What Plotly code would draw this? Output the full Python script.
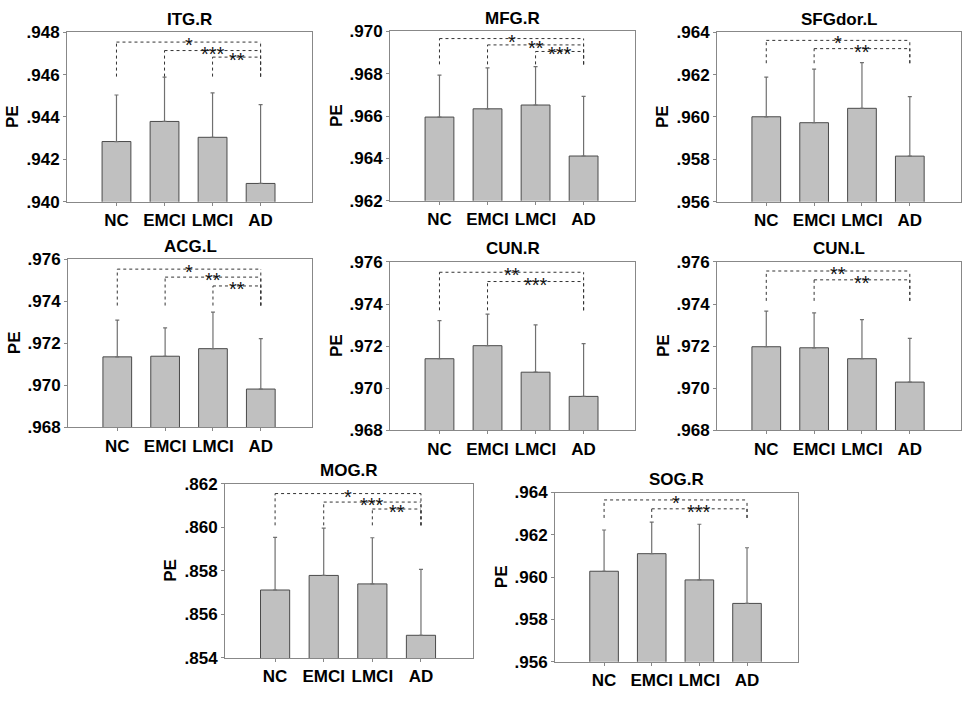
import plotly.graph_objects as go

groups = ["NC", "EMCI", "LMCI", "AD"]
regions = ["ITG.R", "MFG.R", "SFGdor.L", "ACG.L", "CUN.R", "CUN.L", "MOG.R", "SOG.R"]

# mean PE per group, one row per region
means = [
    [0.94284, 0.94379, 0.94304, 0.94086],
    [0.96595, 0.96634, 0.96652, 0.96411],
    [0.96001, 0.95973, 0.96041, 0.95815],
    [0.97135, 0.97138, 0.97174, 0.96982],
    [0.97140, 0.97202, 0.97076, 0.96961],
    [0.97197, 0.97192, 0.97140, 0.97029],
    [0.85712, 0.85779, 0.85740, 0.85504],
    [0.96028, 0.96111, 0.95987, 0.95876],
]
# standard deviation (upper error bar only)
sds = [
    [0.00220, 0.00209, 0.00210, 0.00372],
    [0.00198, 0.00194, 0.00181, 0.00282],
    [0.00187, 0.00253, 0.00216, 0.00281],
    [0.00175, 0.00135, 0.00174, 0.00240],
    [0.00181, 0.00150, 0.00225, 0.00251],
    [0.00169, 0.00166, 0.00186, 0.00208],
    [0.00242, 0.00217, 0.00212, 0.00303],
    [0.00195, 0.00149, 0.00263, 0.00263],
]
y_min = [0.940, 0.962, 0.956, 0.968, 0.968, 0.968, 0.854, 0.956]
y_step = 0.002
# significance brackets: (from group, to group, level, stars)
brackets = [
    [(0, 3, 0.94754, "*"), (1, 3, 0.94714, "***"), (2, 3, 0.94683, "**")],
    [(0, 3, 0.96966, "*"), (1, 3, 0.96936, "**"), (2, 3, 0.96905, "***")],
    [(0, 3, 0.96362, "*"), (1, 3, 0.96323, "**")],
    [(0, 3, 0.97552, "*"), (1, 3, 0.97514, "**"), (2, 3, 0.97472, "**")],
    [(0, 3, 0.97551, "**"), (1, 3, 0.97507, "***")],
    [(0, 3, 0.97557, "**"), (1, 3, 0.97515, "**")],
    [(0, 3, 0.86155, "*"), (1, 3, 0.86116, "***"), (2, 3, 0.86084, "**")],
    [(0, 3, 0.96365, "*"), (1, 3, 0.96323, "***")],
]
bracket_drop = [0.94591, 0.96844, 0.96254, 0.97379, 0.97370, 0.97415, 0.86009, 0.96280]

W, H = 964, 701
# plot area of each panel in pixels: left, right, top, bottom
boxes = [
    (67, 312, 24, 198), (390, 635, 23, 197), (717, 961, 24, 198),
    (68, 312, 257, 430), (390, 635, 260, 433), (717, 961, 260, 433),
    (225, 473, 488, 667), (555, 798, 497, 671),
]

FONT = "Liberation Sans, Arial, sans-serif"
fig = go.Figure()
layout = {}
annotations = []
shapes = []

for k, name in enumerate(regions):
    n = "" if k == 0 else str(k + 1)
    xa, ya = "x" + n, "y" + n
    l, r, t, b = boxes[k]
    fig.add_trace(go.Bar(
        x=list(range(4)), y=means[k], width=0.6,
        xaxis=xa, yaxis=ya, showlegend=False,
        marker=dict(color="#c0c0c0", line=dict(color="#4a4a4a", width=1)),
        error_y=dict(type="data", symmetric=False, array=sds[k],
                     arrayminus=[0] * 4, color="#707070", thickness=1.2, width=2),
    ))
    ticks = [round(y_min[k] + i * y_step, 3) for i in range(5)]
    layout["xaxis" + n] = dict(
        domain=[l / W, r / W], anchor=ya, range=[-1.03, 4.07],
        tickvals=list(range(4)), ticktext=groups,
        showline=True, mirror=True, linecolor="#888888", linewidth=1,
        ticks="outside", ticklen=3, tickcolor="#888888",
        tickfont=dict(family=FONT, size=17, color="black", weight="bold"),
        showgrid=False, zeroline=False, fixedrange=True,
    )
    layout["yaxis" + n] = dict(
        domain=[1 - b / H, 1 - t / H], anchor=xa,
        range=[y_min[k], y_min[k] + 4 * y_step],
        tickvals=ticks, ticktext=[("%.3f" % v)[1:] for v in ticks],
        showline=True, mirror=True, linecolor="#888888", linewidth=1,
        ticks="outside", ticklen=3, tickcolor="#888888",
        tickfont=dict(family=FONT, size=17, color="black", weight="bold"),
        showgrid=False, zeroline=False, fixedrange=True,
    )
    # panel title
    annotations.append(dict(
        text=name, xref="paper", yref="paper", x=(l + r) / 2 / W, y=1 - t / H,
        xanchor="center", yanchor="middle", yshift=13, showarrow=False,
        font=dict(family=FONT, size=17, color="black", weight="bold"),
    ))
    # y axis label
    annotations.append(dict(
        text="PE", xref="paper", yref="paper", x=l / W, y=1 - (t + b) / 2 / H,
        xanchor="center", yanchor="middle", xshift=-54, textangle=-90,
        showarrow=False, font=dict(family=FONT, size=17, color="black", weight="bold"),
    ))
    for i, j, lev, star in brackets[k]:
        dot = dict(color="#333333", width=1, dash="dot")
        shapes.append(dict(type="line", xref=xa, yref=ya, x0=i, x1=j, y0=lev, y1=lev, line=dot))
        shapes.append(dict(type="line", xref=xa, yref=ya, x0=i, x1=i, y0=bracket_drop[k], y1=lev, line=dot))
        shapes.append(dict(type="line", xref=xa, yref=ya, x0=j, x1=j, y0=bracket_drop[k], y1=lev, line=dot))
        annotations.append(dict(
            text=star, xref=xa, yref=ya, x=(i + j) / 2, y=lev,
            xanchor="center", yanchor="middle", yshift=-3, showarrow=False,
            font=dict(family=FONT, size=20, color="#111111"),
        ))

fig.update_layout(
    width=W, height=H, margin=dict(l=0, r=0, t=0, b=0),
    paper_bgcolor="white", plot_bgcolor="white",
    annotations=annotations, shapes=shapes, **layout,
)
# the page's default body margin would push the figure 8px off
fig.write_html("out.html", config={"displayModeBar": False},
               post_script="document.body.style.margin='0';")
